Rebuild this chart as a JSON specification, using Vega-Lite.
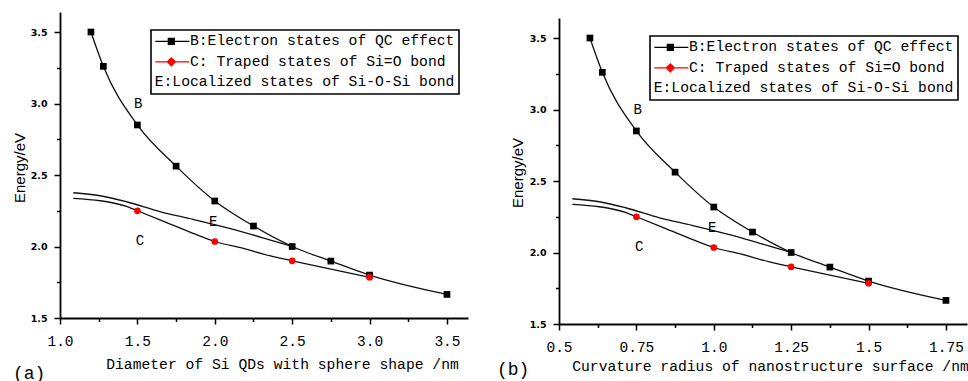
{
  "$schema": "https://vega.github.io/schema/vega-lite/v6.json",
  "background": "white",
  "padding": {"left": 12, "top": 12, "right": 0, "bottom": 0},
  "spacing": 29,
  "config": {
    "view": {"stroke": null},
    "axis": {
      "domainColor": "black", "domainWidth": 1.8, "tickColor": "black", "tickWidth": 1.5,
      "grid": false, "labelColor": "black", "titleColor": "black", "tickSize": 6, "labelFlush": false
    },
    "title": {"font": "Liberation Mono", "fontSize": 18, "fontWeight": "normal", "color": "black", "frame": "group"},
    "legend": {
      "orient": "none", "legendX": 91, "legendY": 18, "title": null,
      "labelFont": "Liberation Mono", "labelFontSize": 14.7, "labelColor": "black", "labelLimit": 500,
      "strokeColor": "black", "strokeWidth": 1.6, "fillColor": "white", "padding": 4,
      "rowPadding": 4.5, "symbolSize": 100, "symbolStrokeWidth": 1.3, "symbolOpacity": 1, "labelOffset": -15, "cornerRadius": 0
    }
  },
  "datasets": {
    "curves": [
      {"id": "B", "series": "\u200b\u00a0\u00a0\u00a0\u00a0B:Electron states of QC effect", "kind": "marker", "d": 1.2, "r": 0.6, "e": 3.5},
      {"id": "B", "series": "\u200b\u00a0\u00a0\u00a0\u00a0B:Electron states of QC effect", "kind": "marker", "d": 1.28, "r": 0.64, "e": 3.26},
      {"id": "B", "series": "\u200b\u00a0\u00a0\u00a0\u00a0B:Electron states of QC effect", "kind": "marker", "d": 1.5, "r": 0.75, "e": 2.85},
      {"id": "B", "series": "\u200b\u00a0\u00a0\u00a0\u00a0B:Electron states of QC effect", "kind": "marker", "d": 1.75, "r": 0.875, "e": 2.562},
      {"id": "B", "series": "\u200b\u00a0\u00a0\u00a0\u00a0B:Electron states of QC effect", "kind": "marker", "d": 2.0, "r": 1.0, "e": 2.318},
      {"id": "B", "series": "\u200b\u00a0\u00a0\u00a0\u00a0B:Electron states of QC effect", "kind": "marker", "d": 2.25, "r": 1.125, "e": 2.143},
      {"id": "B", "series": "\u200b\u00a0\u00a0\u00a0\u00a0B:Electron states of QC effect", "kind": "marker", "d": 2.5, "r": 1.25, "e": 2.0},
      {"id": "B", "series": "\u200b\u00a0\u00a0\u00a0\u00a0B:Electron states of QC effect", "kind": "marker", "d": 2.75, "r": 1.375, "e": 1.898},
      {"id": "B", "series": "\u200b\u00a0\u00a0\u00a0\u00a0B:Electron states of QC effect", "kind": "marker", "d": 3.0, "r": 1.5, "e": 1.8},
      {"id": "B", "series": "\u200b\u00a0\u00a0\u00a0\u00a0B:Electron states of QC effect", "kind": "marker", "d": 3.5, "r": 1.75, "e": 1.665},
      {"id": "C", "series": "\u200b\u00a0\u00a0\u00a0\u00a0C: Traped states of Si=O bond", "kind": "curve", "d": 1.086, "r": 0.543, "e": 2.337},
      {"id": "C", "series": "\u200b\u00a0\u00a0\u00a0\u00a0C: Traped states of Si=O bond", "kind": "curve", "d": 1.26, "r": 0.63, "e": 2.32},
      {"id": "C", "series": "\u200b\u00a0\u00a0\u00a0\u00a0C: Traped states of Si=O bond", "kind": "curve", "d": 1.43, "r": 0.715, "e": 2.28},
      {"id": "C", "series": "\u200b\u00a0\u00a0\u00a0\u00a0C: Traped states of Si=O bond", "kind": "marker", "d": 1.5, "r": 0.75, "e": 2.25},
      {"id": "C", "series": "\u200b\u00a0\u00a0\u00a0\u00a0C: Traped states of Si=O bond", "kind": "curve", "d": 1.65, "r": 0.825, "e": 2.185},
      {"id": "C", "series": "\u200b\u00a0\u00a0\u00a0\u00a0C: Traped states of Si=O bond", "kind": "curve", "d": 1.86, "r": 0.93, "e": 2.092},
      {"id": "C", "series": "\u200b\u00a0\u00a0\u00a0\u00a0C: Traped states of Si=O bond", "kind": "marker", "d": 2.0, "r": 1.0, "e": 2.035},
      {"id": "C", "series": "\u200b\u00a0\u00a0\u00a0\u00a0C: Traped states of Si=O bond", "kind": "curve", "d": 2.18, "r": 1.09, "e": 1.988},
      {"id": "C", "series": "\u200b\u00a0\u00a0\u00a0\u00a0C: Traped states of Si=O bond", "kind": "curve", "d": 2.36, "r": 1.18, "e": 1.934},
      {"id": "C", "series": "\u200b\u00a0\u00a0\u00a0\u00a0C: Traped states of Si=O bond", "kind": "marker", "d": 2.5, "r": 1.25, "e": 1.9},
      {"id": "C", "series": "\u200b\u00a0\u00a0\u00a0\u00a0C: Traped states of Si=O bond", "kind": "marker", "d": 3.0, "r": 1.5, "e": 1.785},
      {"id": "E", "series": "E:Localized states of Si-O-Si bond", "kind": "curve", "d": 1.086, "r": 0.543, "e": 2.376},
      {"id": "E", "series": "E:Localized states of Si-O-Si bond", "kind": "curve", "d": 1.26, "r": 0.63, "e": 2.355},
      {"id": "E", "series": "E:Localized states of Si-O-Si bond", "kind": "curve", "d": 1.43, "r": 0.715, "e": 2.313},
      {"id": "E", "series": "E:Localized states of Si-O-Si bond", "kind": "curve", "d": 1.65, "r": 0.825, "e": 2.243},
      {"id": "E", "series": "E:Localized states of Si-O-Si bond", "kind": "curve", "d": 1.86, "r": 0.93, "e": 2.19},
      {"id": "E", "series": "E:Localized states of Si-O-Si bond", "kind": "curve", "d": 2.12, "r": 1.06, "e": 2.12},
      {"id": "E", "series": "E:Localized states of Si-O-Si bond", "kind": "curve", "d": 2.36, "r": 1.18, "e": 2.045},
      {"id": "E", "series": "E:Localized states of Si-O-Si bond", "kind": "curve", "d": 2.5, "r": 1.25, "e": 2.0}
    ],
    "labels": [
      {"label": "B", "d": 1.506, "r": 0.754, "e": 3.0},
      {"label": "E", "d": 1.99, "r": 0.995, "e": 2.173},
      {"label": "C", "d": 1.517, "r": 0.759, "e": 2.04}
    ]
  },
  "resolve": {
    "scale": {"fill": "independent", "stroke": "independent", "shape": "independent"},
    "legend": {"fill": "independent", "stroke": "independent", "shape": "independent"}
  },
  "hconcat": [
    {
      "width": 408, "height": 306,
      "title": {"text": "(a)", "orient": "bottom", "anchor": "start", "dx": -47, "offset": -6},
      "encoding": {
        "x": {"field": "d", "type": "quantitative",
          "scale": {"domain": [1.0, 3.636], "nice": false, "zero": false},
          "axis": {
            "values": [1.0, 1.25, 1.5, 1.75, 2.0, 2.25, 2.5, 2.75, 3.0, 3.25, 3.5],
            "labelExpr": "abs(datum.value*2 - round(datum.value*2)) < 0.001 ? format(datum.value, '.1f') : ''",
            "tickSize": {"condition": {"test": "abs(datum.value*2 - round(datum.value*2)) < 0.001", "value": 6}, "value": 3.5},
            "labelFont": "Liberation Mono", "labelFontSize": 14.5, "labelBaseline": "middle", "labelPadding": 17,
            "title": "Diameter of Si QDs with sphere shape /nm",
            "titleFont": "Liberation Mono", "titleFontSize": 14.7, "titleFontWeight": "normal",
            "titleX": 222, "titleY": 50, "titleBaseline": "alphabetic"
          }},
        "y": {"field": "e", "type": "quantitative",
          "scale": {"domain": [1.5, 3.64], "nice": false, "zero": false},
          "axis": {
            "values": [1.5, 1.75, 2.0, 2.25, 2.5, 2.75, 3.0, 3.25, 3.5],
            "labelExpr": "abs(datum.value*2 - round(datum.value*2)) < 0.001 ? format(datum.value, '.1f') : ''",
            "tickSize": {"condition": {"test": "abs(datum.value*2 - round(datum.value*2)) < 0.001", "value": 6}, "value": 3.5},
            "labelFont": "DejaVu Sans", "labelFontSize": 9.5, "labelFontWeight": "bold", "labelPadding": 7,
            "title": "Energy/eV", "titleFont": "Liberation Sans", "titleFontSize": 15, "titleFontWeight": "normal",
            "titleX": -41, "titleY": 155.5, "titleAngle": 270, "titleAlign": "center", "titleBaseline": "middle"
          }}
      },
      "layer": [
        {
          "data": {"name": "curves"},
          "mark": {"type": "line", "interpolate": "monotone", "color": "#111111", "strokeWidth": 1.3},
          "encoding": {"detail": {"field": "id"}}
        },
        {
          "data": {"name": "curves"},
          "transform": [{"filter": "datum.kind == 'marker' && datum.id == 'B'"}],
          "mark": {"type": "point", "shape": "square", "filled": true, "opacity": 1, "size": 45, "color": "#000000"}
        },
        {
          "data": {"name": "curves"},
          "transform": [{"filter": "datum.kind == 'marker' && datum.id == 'C'"}],
          "mark": {"type": "point", "shape": "circle", "filled": true, "opacity": 1, "size": 45, "color": "#ff0000"}
        },
        {
          "data": {"name": "curves"},
          "mark": {"type": "point", "filled": true, "opacity": 0},
          "encoding": {
            "fill": {"field": "series", "type": "nominal",
              "scale": {"domain": ["\u200b\u00a0\u00a0\u00a0\u00a0B:Electron states of QC effect", "\u200b\u00a0\u00a0\u00a0\u00a0C: Traped states of Si=O bond", "E:Localized states of Si-O-Si bond"], "range": ["#000000", "#ff0000", "#000000"]}},
            "stroke": {"field": "series", "type": "nominal",
              "scale": {"domain": ["\u200b\u00a0\u00a0\u00a0\u00a0B:Electron states of QC effect", "\u200b\u00a0\u00a0\u00a0\u00a0C: Traped states of Si=O bond", "E:Localized states of Si-O-Si bond"], "range": ["#000000", "#ff0000", "#000000"]}},
            "shape": {"field": "series", "type": "nominal",
              "scale": {"domain": ["\u200b\u00a0\u00a0\u00a0\u00a0B:Electron states of QC effect", "\u200b\u00a0\u00a0\u00a0\u00a0C: Traped states of Si=O bond", "E:Localized states of Si-O-Si bond"], "range": ["M-1.4,0H5.4M1.2,-0.6H2.4V0.6H1.2Z", "M-1.4,0H5.4M1.8,-0.8L2.6,0L1.8,0.8L1,0Z", "M0,0"]}}
          }
        },
        {
          "data": {"name": "labels"},
          "mark": {"type": "text", "font": "Liberation Mono", "fontSize": 14, "color": "black", "align": "center", "baseline": "middle"},
          "encoding": {"text": {"field": "label"}}
        }
      ]
    },
    {
      "spacing": 3,
      "resolve": {
        "scale": {"fill": "independent", "stroke": "independent", "shape": "independent"},
        "legend": {"fill": "independent", "stroke": "independent", "shape": "independent"}
      },
      "vconcat": [
        {
          "width": 408, "height": 3,
          "data": {"values": [{}]},
          "mark": {"type": "rect", "opacity": 0},
          "encoding": {}
        },
        {
          "width": 408, "height": 306,
          "title": {"text": "(b)", "orient": "bottom", "anchor": "start", "dx": -62, "offset": -12},
          "encoding": {
            "x": {"field": "r", "type": "quantitative",
              "scale": {"domain": [0.5, 1.818], "nice": false, "zero": false},
              "axis": {
                "values": [0.5, 0.625, 0.75, 0.875, 1.0, 1.125, 1.25, 1.375, 1.5, 1.625, 1.75],
                "labelExpr": "abs(datum.value*4 - round(datum.value*4)) < 0.001 ? (datum.value == 1 ? '1.0' : format(datum.value, '~g')) : ''",
                "tickSize": {"condition": {"test": "abs(datum.value*4 - round(datum.value*4)) < 0.001", "value": 6}, "value": 3.5},
                "labelFont": "Liberation Mono", "labelFontSize": 14.5, "labelBaseline": "middle", "labelPadding": 17,
                "title": "Curvature radius of nanostructure surface /nm",
                "titleFont": "Liberation Mono", "titleFontSize": 14.7, "titleFontWeight": "normal",
                "titleX": 211, "titleY": 46, "titleBaseline": "alphabetic"
              }},
            "y": {"field": "e", "type": "quantitative",
              "scale": {"domain": [1.5, 3.64], "nice": false, "zero": false},
              "axis": {
                "values": [1.5, 1.75, 2.0, 2.25, 2.5, 2.75, 3.0, 3.25, 3.5],
                "labelExpr": "abs(datum.value*2 - round(datum.value*2)) < 0.001 ? format(datum.value, '.1f') : ''",
                "tickSize": {"condition": {"test": "abs(datum.value*2 - round(datum.value*2)) < 0.001", "value": 6}, "value": 3.5},
                "labelFont": "DejaVu Sans", "labelFontSize": 9.5, "labelFontWeight": "bold", "labelPadding": 7,
                "title": "Energy/eV", "titleFont": "Liberation Sans", "titleFontSize": 15, "titleFontWeight": "normal",
                "titleX": -41.5, "titleY": 154.5, "titleAngle": 270, "titleAlign": "center", "titleBaseline": "middle"
              }}
          },
          "layer": [
            {
              "data": {"name": "curves"},
              "mark": {"type": "line", "interpolate": "monotone", "color": "#111111", "strokeWidth": 1.3},
              "encoding": {"detail": {"field": "id"}}
            },
            {
              "data": {"name": "curves"},
              "transform": [{"filter": "datum.kind == 'marker' && datum.id == 'B'"}],
              "mark": {"type": "point", "shape": "square", "filled": true, "opacity": 1, "size": 45, "color": "#000000"}
            },
            {
              "data": {"name": "curves"},
              "transform": [{"filter": "datum.kind == 'marker' && datum.id == 'C'"}],
              "mark": {"type": "point", "shape": "circle", "filled": true, "opacity": 1, "size": 45, "color": "#ff0000"}
            },
            {
              "data": {"name": "curves"},
              "mark": {"type": "point", "filled": true, "opacity": 0},
              "encoding": {
                "fill": {"field": "series", "type": "nominal",
                  "scale": {"domain": ["\u200b\u00a0\u00a0\u00a0\u00a0B:Electron states of QC effect", "\u200b\u00a0\u00a0\u00a0\u00a0C: Traped states of Si=O bond", "E:Localized states of Si-O-Si bond"], "range": ["#000000", "#ff0000", "#000000"]}},
                "stroke": {"field": "series", "type": "nominal",
                  "scale": {"domain": ["\u200b\u00a0\u00a0\u00a0\u00a0B:Electron states of QC effect", "\u200b\u00a0\u00a0\u00a0\u00a0C: Traped states of Si=O bond", "E:Localized states of Si-O-Si bond"], "range": ["#000000", "#ff0000", "#000000"]}},
                "shape": {"field": "series", "type": "nominal",
                  "scale": {"domain": ["\u200b\u00a0\u00a0\u00a0\u00a0B:Electron states of QC effect", "\u200b\u00a0\u00a0\u00a0\u00a0C: Traped states of Si=O bond", "E:Localized states of Si-O-Si bond"], "range": ["M-1.4,0H5.4M1.2,-0.6H2.4V0.6H1.2Z", "M-1.4,0H5.4M1.8,-0.8L2.6,0L1.8,0.8L1,0Z", "M0,0"]}}
              }
            },
            {
              "data": {"name": "labels"},
              "mark": {"type": "text", "font": "Liberation Mono", "fontSize": 14, "color": "black", "align": "center", "baseline": "middle"},
              "encoding": {"text": {"field": "label"}}
            }
          ]
        }
      ]
    }
  ]
}
